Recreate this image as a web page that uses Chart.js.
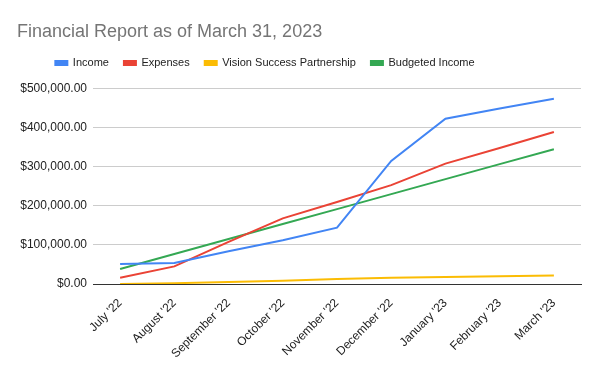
<!DOCTYPE html>
<html>
<head>
<meta charset="utf-8">
<script src="https://cdn.jsdelivr.net/npm/chart.js@4.4.0/dist/chart.umd.min.js"></script>
<style>
  html, body { margin: 0; padding: 0; background: #fff; }
  #wrap { width: 600px; height: 371px; }
</style>
</head>
<body>
<div id="wrap"><canvas id="financeChart" width="600" height="371"></canvas></div>
<script>
// Donnees
const months = ["July '22", "August '22", "September '22", "October '22", "November '22",
                "December '22", "January '23", "February '23", "March '23"];
const income = [51000, 54000, 84000, 112000, 144000, 315000, 423000, 449000, 474000];
const expenses = [16000, 45000, 108000, 168000, 210000, 253000, 308000, 348000, 389000];
const visionSuccess = [0, 2000, 5000, 8000, 13000, 16000, 18000, 20000, 22000];
const budgetedIncome = [38333, 76667, 115000, 153333, 191667, 230000, 268333, 306667, 345000];
const yTicks = [0, 100000, 200000, 300000, 400000, 500000];

const FONT = "'Liberation Sans', Arial, sans-serif";

function money(v) {
    return '$' + Number(v).toLocaleString('en-US', { minimumFractionDigits: 2, maximumFractionDigits: 2 });
}

function line(label, data, color) {
    return {
        label: label,
        data: data,
        borderColor: color,
        backgroundColor: color,
        borderWidth: 2,
        pointRadius: 0,
        tension: 0,
        fill: false
    };
}

// Legende : plus d'espace dessous, et centree un peu plus a gauche
const legendTweak = {
    id: 'legendTweak',
    beforeInit(chart) {
        const fit = chart.legend.fit;
        chart.legend.fit = function () {
            fit.call(this);
            this.height += 10;
        };
    },
    afterLayout(chart) {
        const lg = chart.legend;
        lg.right -= 68;
        lg.width = lg.right - lg.left;
    }
};

const ctx = document.getElementById('financeChart').getContext('2d');
new Chart(ctx, {
    type: 'line',
    data: {
        labels: months,
        datasets: [
            line('Income', income, '#4285F4'),
            line('Expenses', expenses, '#EA4335'),
            line('Vision Success Partnership', visionSuccess, '#FBBC04'),
            line('Budgeted Income', budgetedIncome, '#34A853')
        ]
    },
    options: {
        responsive: false,
        animation: false,
        layout: { padding: { left: 17, right: 19, top: 10, bottom: 0 } },
        plugins: {
            title: {
                display: true,
                text: 'Financial Report as of March 31, 2023',
                align: 'start',
                color: '#757575',
                font: { family: FONT, size: 18, weight: 'normal' },
                padding: { top: 11, bottom: 0 }
            },
            legend: {
                display: true,
                position: 'top',
                labels: {
                    color: '#222',
                    font: { family: FONT, size: 11 },
                    boxWidth: 12,
                    boxHeight: 4,
                    padding: 15
                }
            },
            tooltip: { enabled: false }
        },
        scales: {
            x: {
                offset: true,
                grid: { display: false },
                border: { display: true, color: '#333', width: 1 },
                ticks: {
                    color: '#222',
                    font: { family: FONT, size: 12 },
                    minRotation: 45,
                    maxRotation: 45,
                    padding: 4
                },
                afterFit: s => { s.height = 87; }
            },
            y: {
                min: 0,
                max: 500000,
                afterBuildTicks: s => { s.ticks = yTicks.map(v => ({ value: v })); },
                grid: {
                    color: '#ccc',
                    drawTicks: false
                },
                border: { display: false },
                ticks: {
                    color: '#222',
                    font: { family: FONT, size: 12 },
                    padding: 6,
                    callback: v => money(v)
                },
                afterFit: s => { s.width = 76; }
            }
        }
    },
    plugins: [legendTweak]
});
</script>
</body>
</html>
